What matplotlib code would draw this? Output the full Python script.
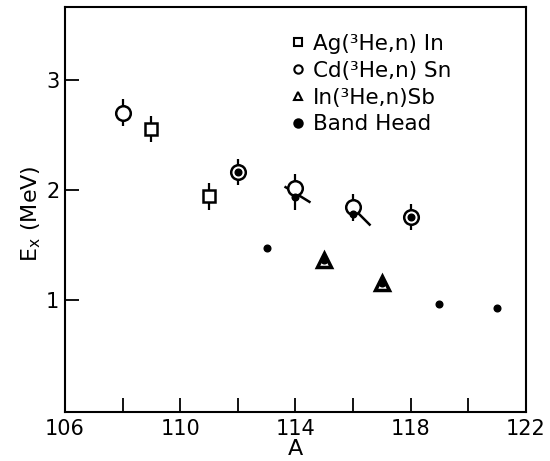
import matplotlib
matplotlib.use("Agg")
import matplotlib.pyplot as plt
from matplotlib.markers import MarkerStyle
from matplotlib.transforms import Affine2D

plt.rcParams['font.family'] = ['DejaVu Sans']

# Ag(3He,n)In
sq_A = [109, 111]
sq_E = [2.55, 1.94]
sq_err = [0.12, 0.12]
# Cd(3He,n)Sn
ci_A = [108, 112, 114, 116, 118]
ci_E = [2.70, 2.16, 2.02, 1.84, 1.75]
ci_err_lo = [0.12, 0.12, 0.2, 0.12, 0.12]
ci_err_hi = [0.12, 0.12, 0.12, 0.12, 0.12]
# In(3He,n)Sb
tr_A = [115, 117]
tr_E = [1.36, 1.15]
# Band heads
bh_A = [112, 113, 114, 115, 116, 117, 118, 119, 121]
bh_E = [2.16, 1.47, 1.93, 1.36, 1.78, 1.15, 1.75, 0.96, 0.93]
# slanted strokes through circles
sl_A = [114.05, 116.3]
sl_E = [1.96, 1.75]
sl_ang = [-30, -45]
sl_len = [22, 16]

fig = plt.figure(figsize=(5.5, 4.61), dpi=100)
ax = fig.add_axes([0.118, 0.106, 0.838, 0.879])

ax.errorbar(sq_A, sq_E, yerr=sq_err, fmt='none', ecolor='black', elinewidth=1.6, capsize=0)
ax.errorbar(ci_A, ci_E, yerr=[ci_err_lo, ci_err_hi], fmt='none', ecolor='black', elinewidth=1.6, capsize=0)

for a, e, ang, ln in zip(sl_A, sl_E, sl_ang, sl_len):
    m = MarkerStyle('_', transform=Affine2D().rotate_deg(ang))
    ax.plot([a], [e], linestyle='none', marker=m, markersize=ln,
            markeredgewidth=1.8, color='black')

h1, = ax.plot(sq_A, sq_E, linestyle='none', marker='s', markersize=8.5,
              markerfacecolor='white', markeredgecolor='black', markeredgewidth=1.8,
              label='Ag(³He,n) In')
h2, = ax.plot(ci_A, ci_E, linestyle='none', marker='o', markersize=10.5,
              markerfacecolor='white', markeredgecolor='black', markeredgewidth=1.8,
              label='Cd(³He,n) Sn')
h3, = ax.plot(tr_A, tr_E, linestyle='none', marker='^', markersize=10,
              markerfacecolor='white', markeredgecolor='black', markeredgewidth=2.5,
              label='In(³He,n)Sb')
h4, = ax.plot(bh_A, bh_E, linestyle='none', marker='o', markersize=4.8,
              markerfacecolor='black', markeredgecolor='black', label='Band Head')

leg = ax.legend(handles=[h1, h2, h3, h4], loc='upper left', frameon=False,
                fontsize=15.5, handlelength=0.8, handletextpad=0.3, labelspacing=0.32,
                borderpad=0.4, borderaxespad=0.0, bbox_to_anchor=(0.469, 0.955))
for lh in leg.legend_handles:
    lh.set_markersize(6)
    lh.set_markeredgewidth(1.5)

ax.set_xlim(106, 122)
ax.set_ylim(-0.02, 3.66)
ax.set_xticks([106, 110, 114, 118, 122])
ax.set_xticks([108, 112, 116, 120], minor=True)
ax.set_yticks([1, 2, 3])
ax.tick_params(axis='both', which='both', direction='in', length=10, width=1.3,
               top=False, right=False, labelsize=15)
ax.tick_params(axis='x', pad=5)
ax.tick_params(axis='y', pad=4)
for s in ax.spines.values():
    s.set_linewidth(1.5)

ax.set_xlabel('A', fontsize=16, labelpad=0)
ax.set_ylabel('E$_\\mathregular{x}$ (MeV)', fontsize=16)
ax.yaxis.set_label_coords(-0.047, 0.49)

fig.savefig('out.png', dpi=100)
